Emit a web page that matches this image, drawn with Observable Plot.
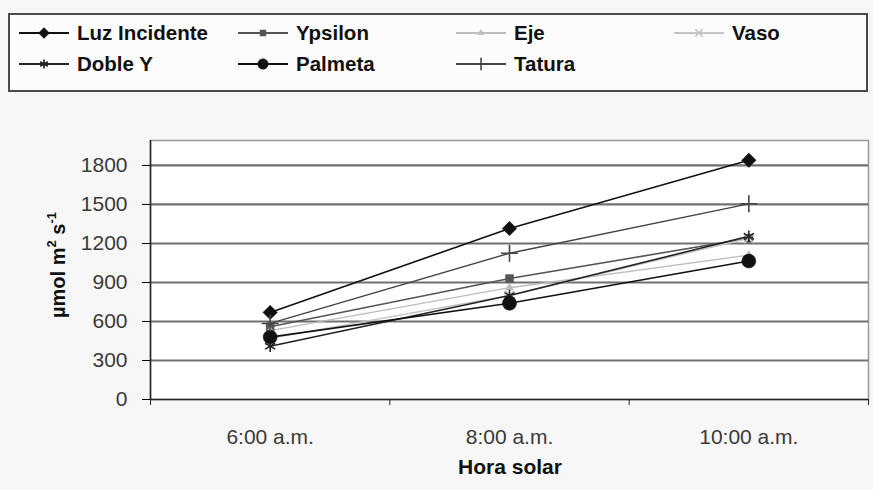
<!DOCTYPE html>
<html>
<head>
<meta charset="utf-8">
<script src="https://cdn.jsdelivr.net/npm/d3@7"></script>
<script src="https://cdn.jsdelivr.net/npm/@observablehq/plot@0.6"></script>
<style>
  html, body { margin: 0; padding: 0; background: #f7f7f7; }
  body { width: 873px; height: 490px; position: relative; overflow: hidden; font-family: "Liberation Sans", Arial, sans-serif; }
  #legend { position: absolute; left: 8px; top: 13px; width: 856px; height: 75px; border: 2px solid #4a4a4a; background: #fcfcfc; }
  .item { position: absolute; display: flex; align-items: center; height: 24px; }
  .item span { font-weight: bold; font-size: 20.5px; color: #111; margin-left: 6px; }
  #chart { position: absolute; left: 0; top: 100px; }
</style>
</head>
<body>
<div id="legend"></div>
<div id="chart"></div>
<script>
// ---- data ----
const horas = ["6:00 a.m.", "8:00 a.m.", "10:00 a.m."];
const series = ["Luz Incidente", "Ypsilon", "Eje", "Vaso", "Doble Y", "Palmeta", "Tatura"];
const luzIncidente = [670, 1315, 1840];
const ypsilon = [560, 930, 1240];
const eje = [530, 860, 1110];
const vaso = [470, 800, 1240];
const dobleY = [410, 800, 1255];
const palmeta = [480, 740, 1065];
const tatura = [585, 1125, 1505];
const yTicks = [0, 300, 600, 900, 1200, 1500, 1800];

const valores = {"Luz Incidente": luzIncidente, "Ypsilon": ypsilon, "Eje": eje, "Vaso": vaso, "Doble Y": dobleY, "Palmeta": palmeta, "Tatura": tatura};

// ---- styles ----
const estilo = {
  "Luz Incidente": {stroke: "#111", symbol: "diamond2", filled: true, r: 6.5, sw: 1.6},
  "Ypsilon": {stroke: "#555", symbol: "square", filled: true, r: 4.5, sw: 1.6},
  "Eje": {stroke: "#bdbdbd", symbol: "triangle", filled: true, r: 3, sw: 1.4},
  "Vaso": {stroke: "#c4c4c4", symbol: "times", filled: false, r: 4.5, sw: 1.4},
  "Doble Y": {stroke: "#222", symbol: "asterisk", filled: false, r: 5.5, sw: 1.6},
  "Palmeta": {stroke: "#111", symbol: "circle", filled: true, r: 7, sw: 1.6},
  "Tatura": {stroke: "#444", symbol: "plus", filled: false, r: 5.5, sw: 1.4}
};

const symMap = {diamond2: d3.symbolDiamond2, square: d3.symbolSquare, triangle: d3.symbolTriangle,
  times: d3.symbolTimes, asterisk: d3.symbolAsterisk, circle: d3.symbolCircle, plus: d3.symbolPlus};

const rows = series.flatMap(s => horas.map((h, i) => ({serie: s, hora: h, idx: i + 0.5, valor: valores[s][i]})));

const marks = [
  Plot.frame({fill: "white", stroke: "#999", strokeWidth: 1.5}),
  Plot.ruleY(yTicks.filter(v => v > 0), {stroke: "#707070", strokeWidth: 2.2}),
  Plot.axisY({ticks: yTicks, tickSize: 8, tickPadding: 15, fontSize: 21, fill: "#3a3a3a", label: null, tickFormat: d => String(d)}),
  Plot.axisX({ticks: [0, 1, 2, 3], tickSize: 6, tickFormat: () => "", label: null, stroke: "#222"}),
  Plot.axisX({ticks: horas.map((h, i) => i + 0.5), tickSize: 0, tickPadding: 30, tickFormat: d => horas[Math.floor(d)], fontSize: 21, fill: "#3a3a3a", label: null}),
  Plot.ruleY([0], {stroke: "#222", strokeWidth: 1.5}),
  Plot.ruleX([0], {stroke: "#222", strokeWidth: 1.5})
];
for (const s of series) {
  const st = estilo[s];
  const data = rows.filter(d => d.serie === s);
  marks.push(Plot.line(data, {x: "idx", y: "valor", stroke: st.stroke, strokeWidth: st.sw}));
}
for (const s of series) {
  const st = estilo[s];
  const data = rows.filter(d => d.serie === s);
  marks.push(Plot.dot(data, {x: "idx", y: "valor", symbol: () => symMap[st.symbol], r: st.r,
    fill: st.filled ? st.stroke : "none", stroke: st.stroke, strokeWidth: st.filled ? 0.5 : 1.6}));
}

const plot = Plot.plot({
  width: 873, height: 390,
  marginLeft: 150, marginRight: 5, marginTop: 40, marginBottom: 91,
  style: {background: "transparent", fontFamily: "Liberation Sans, Arial, sans-serif"},
  x: {domain: [0, 3], axis: null},
  y: {domain: [0, 1992], axis: null},
  symbol: {type: "identity"},
  marks
});
document.getElementById("chart").appendChild(plot);

const svg = d3.select(plot);
const yl = svg.append("text")
  .attr("transform", "translate(60,165) rotate(-90)")
  .attr("text-anchor", "middle").attr("dominant-baseline", "middle")
  .attr("font-weight", "bold").attr("font-size", 20).attr("fill", "#111")
  .attr("font-family", "Liberation Sans, Arial, sans-serif");
yl.append("tspan").text("µmol m");
yl.append("tspan").attr("baseline-shift", "super").attr("font-size", 13).text("2");
yl.append("tspan").text(" s");
yl.append("tspan").attr("baseline-shift", "super").attr("font-size", 13).text("-1");

svg.append("text")
  .attr("x", 510).attr("y", 368)
  .attr("text-anchor", "middle").attr("dominant-baseline", "middle")
  .attr("font-weight", "bold").attr("font-size", 21).attr("fill", "#111")
  .attr("font-family", "Liberation Sans, Arial, sans-serif")
  .text("Hora solar");

// ---- legend ----
const legendCols = [5, 224, 442, 660];
const leg = document.getElementById("legend");
series.forEach((s, k) => {
  const st = estilo[s];
  const row = Math.floor(k / 4), col = k % 4;
  const div = document.createElement("div");
  div.className = "item";
  div.style.left = legendCols[col] + "px";
  div.style.top = (row === 0 ? 6 : 37) + "px";
  const sw = d3.create("svg").attr("width", 56).attr("height", 24);
  sw.append("line").attr("x1", 4).attr("x2", 54).attr("y1", 12).attr("y2", 12)
    .attr("stroke", st.stroke).attr("stroke-width", 2);
  const r = st.r * 0.75;
  sw.append("path").attr("transform", "translate(29,12)")
    .attr("d", d3.symbol(symMap[st.symbol], Math.PI * r * r)())
    .attr("fill", st.filled ? st.stroke : "none").attr("stroke", st.stroke).attr("stroke-width", st.filled ? 0.5 : 1.6);
  div.appendChild(sw.node());
  const span = document.createElement("span");
  span.textContent = s;
  div.appendChild(span);
  leg.appendChild(div);
});
</script>
</body>
</html>
